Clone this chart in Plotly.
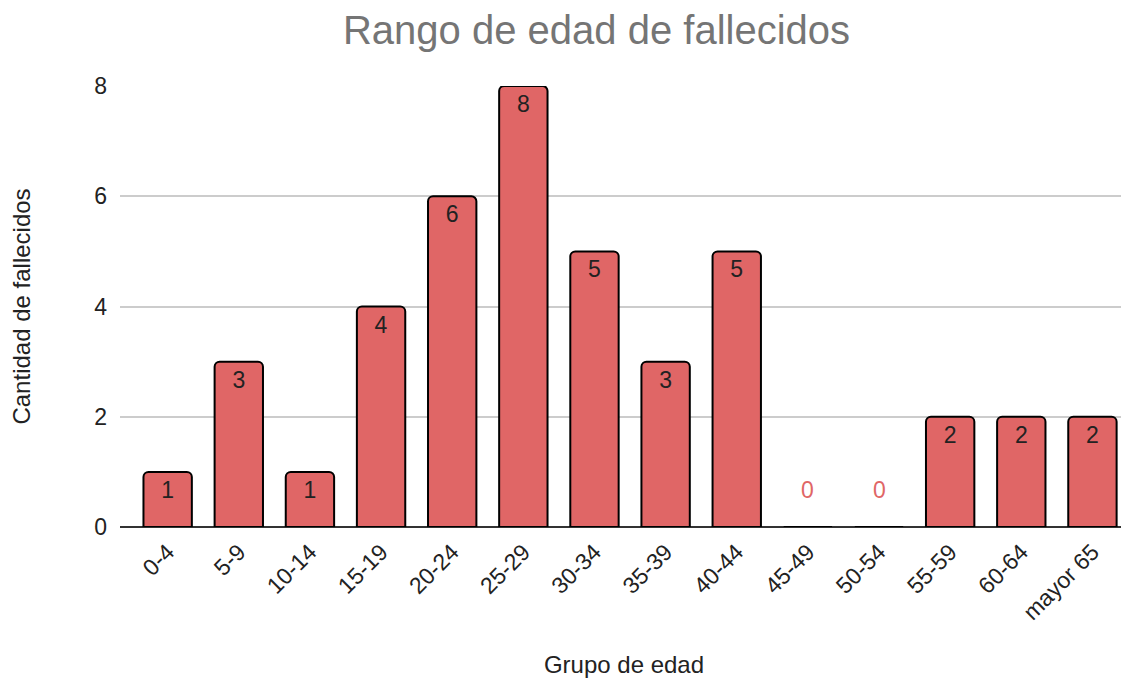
import plotly.graph_objects as go

categories = ["0-4", "5-9", "10-14", "15-19", "20-24", "25-29", "30-34",
              "35-39", "40-44", "45-49", "50-54", "55-59", "60-64", "mayor 65"]
values = [1, 3, 1, 4, 6, 8, 5, 3, 5, 0, 0, 2, 2, 2]
y_ticks = [0, 2, 4, 6, 8]

bar_color = "#e06666"
font_family = "Arial, 'Liberation Sans', sans-serif"

fig = go.Figure()
fig.add_trace(go.Bar(
    x=categories,
    y=values,
    marker=dict(color=bar_color, line=dict(color="#000000", width=2), cornerradius=5),
    text=[str(v) if v > 0 else "" for v in values],
    textposition="inside",
    insidetextanchor="end",
    textangle=0,
    textfont=dict(family=font_family, size=23, color="#222222"),
    hoverinfo="x+y",
))

annotations = []
for c, v in zip(categories, values):
    if v == 0:
        annotations.append(dict(x=c, y=v, xref="x", yref="y", text=str(v),
                                showarrow=False, yshift=37,
                                font=dict(family=font_family, size=23, color=bar_color)))

fig.update_layout(
    width=1121, height=671,
    paper_bgcolor="white", plot_bgcolor="white",
    margin=dict(l=112, r=1, t=78, b=152, pad=0),
    bargap=0.32,
    showlegend=False,
    title=dict(text="Rango de edad de fallecidos", x=0.525, xanchor="center",
               y=0.967, yanchor="middle",
               font=dict(family=font_family, size=40, color="#757575")),
    annotations=annotations,
    font=dict(family=font_family, size=23, color="#222222"),
)
fig.update_xaxes(
    range=[-0.67, 13.5],
    tickangle=-45, tickfont=dict(size=23, color="#222222"),
    title=dict(text="Grupo de edad", font=dict(size=24, color="#222222"), standoff=32),
    showline=False, ticks="", ticklabelstandoff=6,
)
fig.update_yaxes(
    range=[0, 8], tickvals=y_ticks, ticktext=[str(t) for t in y_ticks],
    tickfont=dict(size=23, color="#222222"),
    showgrid=True, gridcolor="#cccccc", gridwidth=1.5,
    zeroline=True, zerolinecolor="#333333", zerolinewidth=1.5,
    title=dict(text="Cantidad de fallecidos", font=dict(size=24, color="#222222"), standoff=59),
    ticks="", ticklabelstandoff=12,
)
fig.write_html("out.html")
